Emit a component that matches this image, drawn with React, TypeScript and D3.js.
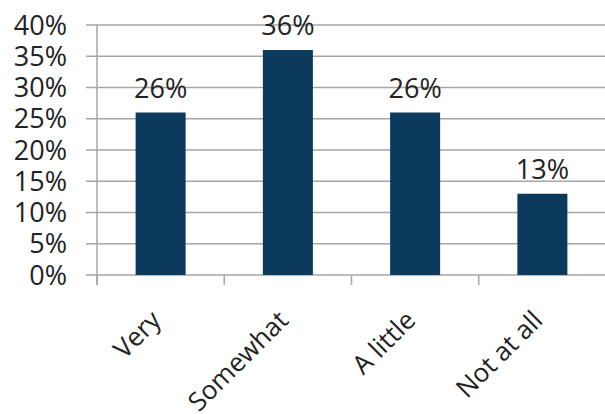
import React from "react";
import * as d3 from "d3";

const categories = ["Very", "Somewhat", "A little", "Not at all"];
const values = [26, 36, 26, 13];
const yTicks = [0, 5, 10, 15, 20, 25, 30, 35, 40];

const W = 605;
const H = 414;
const left = 97;
const right = 606;
const top = 25;
const bottom = 275;
const FONT = "'Open Sans', 'Noto Sans', sans-serif";
const FS = 27;

export default function App() {
  const x = d3.scaleBand<string>().domain(categories).range([left, right]).paddingInner(0).paddingOuter(0);
  const y = d3.scaleLinear().domain([0, 40]).range([bottom, top]);
  const barW = 50;
  const grid = "#a6a6a6";
  return (
    <svg width={W} height={H} style={{ position: "absolute", left: 0, top: 0, background: "#fff" }}>
      {yTicks.map((t) => (
        <g key={t}>
          <line x1={86} x2={W} y1={y(t)} y2={y(t)} stroke={grid} strokeWidth={1.5} />
          <text x={67} y={y(t)} dy="0.36em" textAnchor="end" fontFamily={FONT} fontSize={FS} fill="#222">
            {t}%
          </text>
        </g>
      ))}
      <line x1={left} x2={left} y1={top} y2={bottom + 10} stroke={grid} strokeWidth={1.5} />
      {categories.map((c) => (
        <line key={"t" + c} x1={x(c)!} x2={x(c)!} y1={bottom} y2={bottom + 10} stroke={grid} strokeWidth={1.5} />
      ))}
      {categories.map((c, i) => {
        const cx = x(c)! + x.bandwidth() / 2;
        return (
          <g key={c}>
            <rect x={cx - barW / 2} y={y(values[i])} width={barW} height={bottom - y(values[i])} fill="#0b3a5d" />
            <text x={cx} y={y(values[i]) - 15} textAnchor="middle" fontFamily={FONT} fontSize={FS} fill="#222">
              {values[i]}%
            </text>
            <text
              transform={`translate(${cx - 11},${309}) rotate(-45)`}
              textAnchor="end"
              dy="0.7em"
              fontFamily={FONT}
              fontSize={26}
              fill="#222"
            >
              {c}
            </text>
          </g>
        );
      })}
    </svg>
  );
}
